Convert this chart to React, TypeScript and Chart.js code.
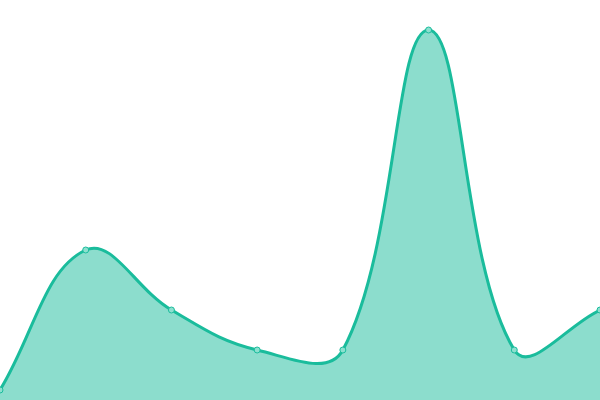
import React, { useEffect, useRef } from "react";
import { Chart, registerables } from "chart.js";

Chart.register(...registerables);

const labels = ["1", "2", "3", "4", "5", "6", "7", "8"];
const values = [0, 35, 20, 10, 10, 90, 10, 20];

export default function App() {
  const ref = useRef<HTMLCanvasElement>(null);
  useEffect(() => {
    const chart = new Chart(ref.current!, {
      type: "line",
      data: {
        labels,
        datasets: [
          {
            data: values,
            borderColor: "#1abc9c",
            backgroundColor: "rgba(26,188,156,0.5)",
            borderWidth: 3,
            fill: "start",
            tension: 0.4,
            pointRadius: 3,
            pointBorderWidth: 1,
            pointBorderColor: "#1abc9c",
            pointBackgroundColor: "rgba(140,224,207,1)",
          },
        ],
      },
      options: {
        animation: false,
        responsive: true,
        maintainAspectRatio: false,
        layout: { padding: 0, autoPadding: false },
        plugins: { legend: { display: false }, tooltip: { enabled: false } },
        scales: {
          x: { display: false, offset: false },
          y: { display: false, min: -2.5, max: 97.5 },
        },
      },
    });
    return () => chart.destroy();
  }, []);
  return (
    <div style={{ position: "fixed", left: 0, top: 0, width: 600, height: 400 }}>
      <canvas ref={ref} />
    </div>
  );
}
